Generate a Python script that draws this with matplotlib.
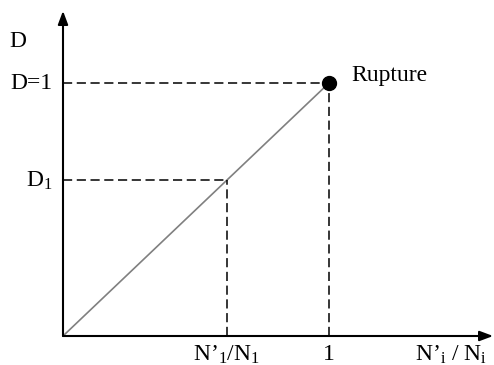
import matplotlib
matplotlib.use('Agg')
from matplotlib import pyplot as plt

plt.rcParams['font.family'] = 'Liberation Serif'
plt.rcParams['mathtext.fontset'] = 'custom'
plt.rcParams['mathtext.rm'] = 'Liberation Serif'
plt.rcParams['mathtext.it'] = 'Liberation Serif'

# Miner's rule: damage grows linearly with cycle ratio up to rupture
ratio = [0.0, 1.0]
damage = [0.0, 1.0]
ratio_1 = 0.615   # N'1/N1
damage_1 = 0.615  # D1

x_max, y_max = 1.617, 1.285

fig = plt.figure(figsize=(4.94, 3.65), dpi=100)
ax = fig.add_axes([0, 0, 1, 1])
ax.set_xlim(-63 / 266, 431 / 266)
ax.set_ylim(-29 / 253, 336 / 253)
ax.axis('off')

# axes with arrow heads
arrow = dict(arrowstyle='-|>,head_length=0.8,head_width=0.3', color='black',
             lw=1.5, shrinkA=0, shrinkB=0)
ax.annotate('', xy=(x_max, 0), xytext=(0, 0), arrowprops=arrow)
ax.annotate('', xy=(0, y_max), xytext=(0, 0), arrowprops=arrow)

# damage line
ax.plot(ratio, damage, color='#808080', lw=1.2, solid_capstyle='butt')

# dashed guides
dash = dict(color='black', lw=1.1, ls=(0, (6, 3)))
ax.plot([0, ratio[1]], [damage[1], damage[1]], **dash)
ax.plot([ratio[1], ratio[1]], [0, damage[1]], **dash)
ax.plot([0, ratio_1], [damage_1, damage_1], **dash)
ax.plot([ratio_1, ratio_1], [0, damage_1], **dash)

ax.plot([ratio[1]], [damage[1]], 'o', color='black', ms=10)

fs = 17
ax.text(ratio[1] + 0.083, damage[1] + 0.03, 'Rupture', fontsize=fs,
        ha='left', va='center')
ax.text(-0.04, damage[1], 'D=1', fontsize=fs, ha='right', va='center')
ax.text(-0.04, damage_1, r'D$_1$', fontsize=fs, ha='right', va='center')
ax.text(-0.17, 1.165, 'D', fontsize=fs, ha='center', va='center')
ax.text(ratio_1, -0.075, r'N’$_1$/N$_1$', fontsize=fs, ha='center', va='center')
ax.text(ratio[1], -0.075, '1', fontsize=fs, ha='center', va='center')
ax.text(1.595, -0.075, r'N’$_\mathrm{i}$ / N$_\mathrm{i}$', fontsize=fs,
        ha='right', va='center')

fig.savefig('out.png', dpi=100)
